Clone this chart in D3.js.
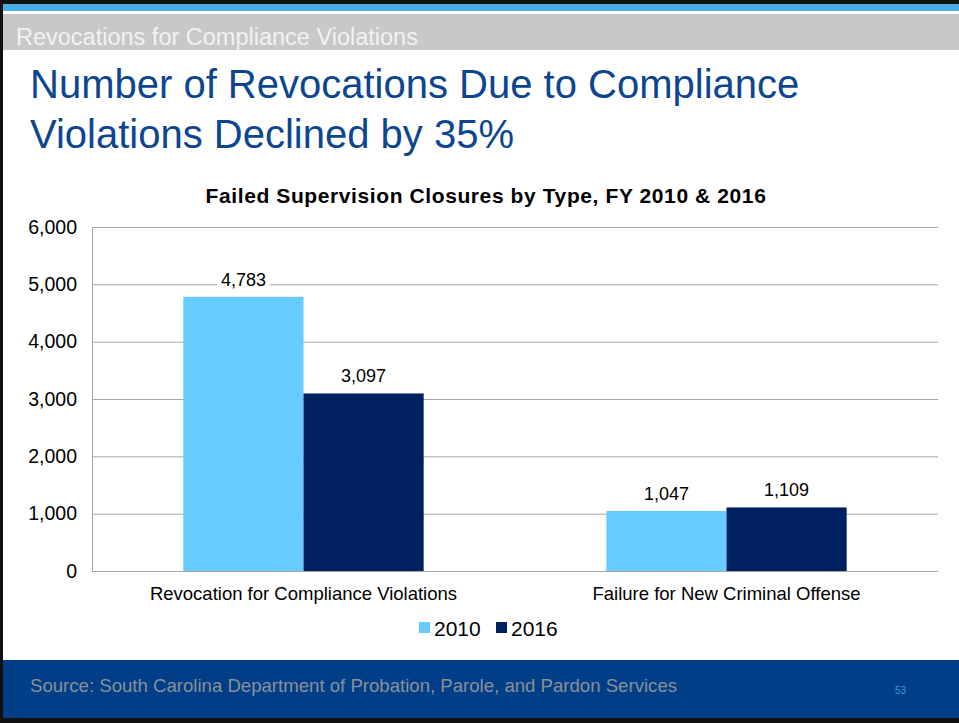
<!DOCTYPE html>
<html>
<head>
<meta charset="utf-8">
<script src="https://cdn.jsdelivr.net/npm/d3@7"></script>
<style>
  body { margin: 0; background: #fff; }
  svg { display: block; font-family: Arial, "Liberation Sans", sans-serif; }
</style>
</head>
<body>
<div id="chart"></div>
<script>
// --- Data ---
const categories = ["Revocation for Compliance Violations", "Failure for New Criminal Offense"];
const years = ["2010", "2016"];
const values2010 = [4783, 1047];
const values2016 = [3097, 1109];
const yTicks = [0, 1000, 2000, 3000, 4000, 5000, 6000];

const W = 959, H = 723;
const colors = { "2010": "#66ccff", "2016": "#002060" };

const svg = d3.select("#chart").append("svg")
    .attr("width", W)
    .attr("height", H);

// slide frame
svg.append("rect").attr("x", 0).attr("y", 0).attr("width", W).attr("height", 4).attr("fill", "#111");
svg.append("rect").attr("x", 0).attr("y", 4).attr("width", W).attr("height", 7).attr("fill", "#4aaee6");
svg.append("rect").attr("x", 0).attr("y", 14).attr("width", W).attr("height", 36).attr("fill", "#c8c8c8");
svg.append("text").attr("x", 16).attr("y", 45)
    .attr("font-size", 23.5).attr("fill", "#f2f2f2")
    .text("Revocations for Compliance Violations");

// headline
svg.append("text").attr("x", 30).attr("y", 98)
    .attr("font-size", 40).attr("fill", "#0d4690")
    .text("Number of Revocations Due to Compliance");
svg.append("text").attr("x", 30).attr("y", 148)
    .attr("font-size", 40).attr("fill", "#0d4690")
    .text("Violations Declined by 35%");

// chart title
svg.append("text").attr("x", 486).attr("y", 203)
    .attr("text-anchor", "middle").attr("font-size", 21).attr("font-weight", "bold")
    .attr("letter-spacing", 0.6)
    .attr("fill", "#000")
    .text("Failed Supervision Closures by Type, FY 2010 & 2016");

// --- Scales ---
const plot = { left: 92, right: 938, top: 227, bottom: 571 };

const x0 = d3.scaleBand()
    .domain(categories)
    .range([plot.left, plot.right]);

const x1 = d3.scaleBand()
    .domain(years)
    .range([0, x0.bandwidth()])
    .paddingOuter(0.76)
    .paddingInner(0);

const y = d3.scaleLinear()
    .domain([0, 6000])
    .range([plot.bottom, plot.top]);

// gridlines
const grid = svg.append("g").attr("transform", `translate(${plot.left},0)`)
    .call(d3.axisLeft(y).tickValues(yTicks).tickSize(-(plot.right - plot.left)).tickFormat(""));
grid.select(".domain").remove();
grid.selectAll("line").attr("stroke", "#a6a6a6").attr("stroke-width", 1);

// left axis line
svg.append("line")
    .attr("x1", plot.left + 0.5).attr("x2", plot.left + 0.5)
    .attr("y1", plot.top).attr("y2", plot.bottom)
    .attr("stroke", "#a6a6a6");

// y tick labels
const yAxis = svg.append("g").attr("transform", `translate(${plot.left},0)`)
    .call(d3.axisLeft(y).tickValues(yTicks).tickSize(0).tickPadding(15).tickFormat(d3.format(",")));
yAxis.select(".domain").remove();
yAxis.selectAll("text").attr("font-size", 19.5).attr("fill", "#000")
    .attr("font-family", "Arial, 'Liberation Sans', sans-serif");

// bars
const rows = categories.map((c, i) => ({ cat: c, vals: [
    { year: "2010", v: values2010[i] },
    { year: "2016", v: values2016[i] }
] }));

const groups = svg.selectAll("g.grp")
    .data(rows)
    .enter().append("g")
    .attr("class", "grp")
    .attr("transform", d => `translate(${x0(d.cat)},0)`);

groups.selectAll("rect")
    .data(d => d.vals)
    .enter().append("rect")
    .attr("x", d => x1(d.year))
    .attr("y", d => y(d.v))
    .attr("width", x1.bandwidth())
    .attr("height", d => y(0) - y(d.v))
    .attr("fill", d => colors[d.year]);

// value labels with white backing
const fmt = d3.format(",");
groups.selectAll("g.lbl")
    .data(d => d.vals)
    .enter().append("g")
    .attr("class", "lbl")
    .each(function (d) {
        const g = d3.select(this);
        const cx = x1(d.year) + x1.bandwidth() / 2;
        const ty = y(d.v) - 11;
        const t = g.append("text")
            .attr("x", cx).attr("y", ty)
            .attr("text-anchor", "middle")
            .attr("font-size", 18).attr("fill", "#000")
            .text(fmt(d.v));
        const bb = t.node().getBBox();
        g.insert("rect", "text")
            .attr("x", bb.x - 4).attr("y", bb.y)
            .attr("width", bb.width + 8).attr("height", bb.height)
            .attr("fill", "#fff");
    });

// category labels
svg.selectAll("text.cat")
    .data(categories)
    .enter().append("text")
    .attr("class", "cat")
    .attr("x", d => x0(d) + x0.bandwidth() / 2)
    .attr("y", 600)
    .attr("text-anchor", "middle")
    .attr("font-size", 18.5).attr("fill", "#000")
    .text(d => d);

// legend
const legend = svg.append("g");
const legendX = [419, 496];
years.forEach((yr, i) => {
    legend.append("rect")
        .attr("x", legendX[i]).attr("y", 622)
        .attr("width", 11).attr("height", 11)
        .attr("fill", colors[yr]);
    legend.append("text")
        .attr("x", legendX[i] + 15).attr("y", 636)
        .attr("font-size", 21).attr("fill", "#000")
        .text(yr);
});

// footer
svg.append("rect").attr("x", 0).attr("y", 660).attr("width", W).attr("height", 58).attr("fill", "#003f87");
svg.append("rect").attr("x", 0).attr("y", 718).attr("width", W).attr("height", 5).attr("fill", "#111");
svg.append("text").attr("x", 30).attr("y", 692)
    .attr("font-size", 18.6).attr("fill", "#8a8f99")
    .text("Source: South Carolina Department of Probation, Parole, and Pardon Services");
svg.append("text").attr("x", 895).attr("y", 694)
    .attr("font-size", 10).attr("fill", "#3a9ad9")
    .text("53");

// left border
svg.append("rect").attr("x", 0).attr("y", 0).attr("width", 3).attr("height", H).attr("fill", "#111");
</script>
</body>
</html>
